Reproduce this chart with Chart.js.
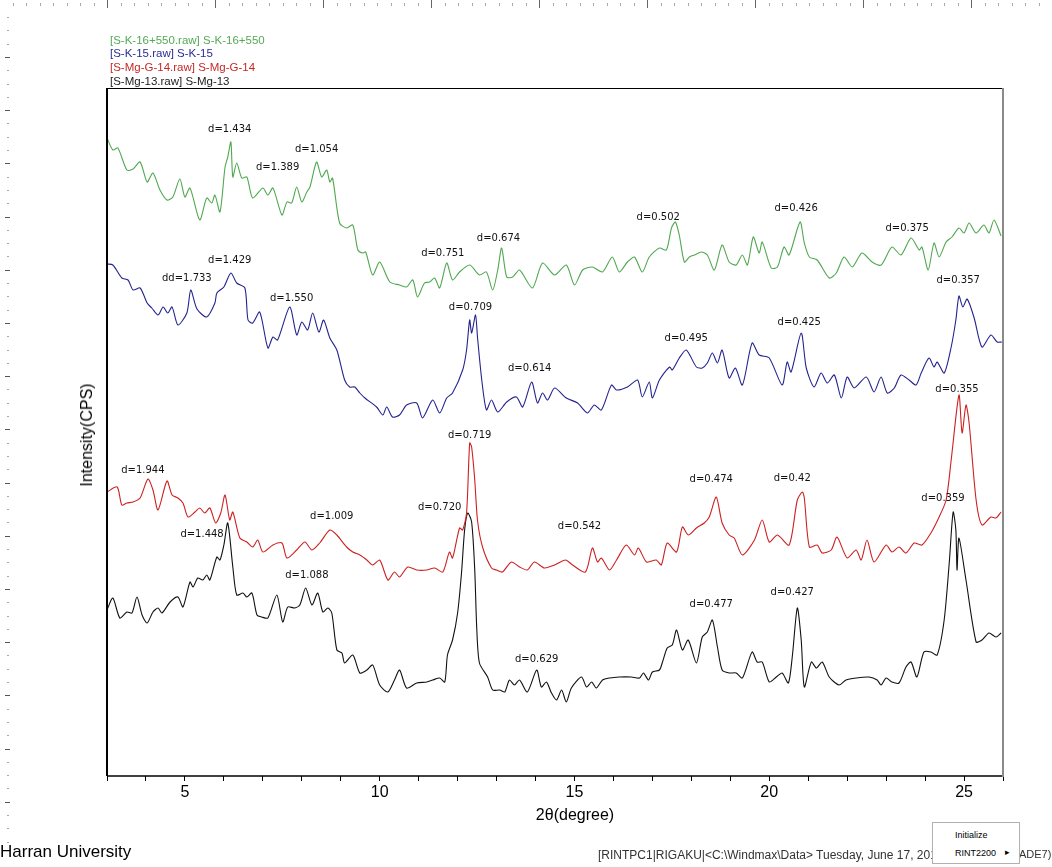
<!DOCTYPE html>
<html>
<head>
<meta charset="utf-8">
<script src="https://cdn.jsdelivr.net/npm/chart.js@4.4.1/dist/chart.umd.min.js"></script>
<style>
  body { margin: 0; background: #fff; }
  #wrap { position: relative; width: 1052px; height: 867px; font-family: "Liberation Sans", Arial, sans-serif; overflow: hidden; }
  canvas { position: absolute; left: 0; top: 0; }
  .txt { position: absolute; white-space: nowrap; }
  .legend { left: 110px; font-size: 11.5px; line-height: 14px; }
  .popup { position: absolute; left: 932px; top: 822px; width: 88px; height: 42px; border: 1px solid #b0b0b0; background: #fff; box-sizing: border-box; font-size: 9px; z-index: 2; }
</style>
</head>
<body>
<div id="wrap">
  <canvas id="xrd" width="1052" height="867"></canvas>

  <div class="txt legend" style="top:33px;color:#55a855">[S-K-16+550.raw] S-K-16+550</div>
  <div class="txt legend" style="top:46px;color:#2c2c96">[S-K-15.raw] S-K-15</div>
  <div class="txt legend" style="top:60px;color:#c62828">[S-Mg-G-14.raw] S-Mg-G-14</div>
  <div class="txt legend" style="top:74px;color:#222">[S-Mg-13.raw] S-Mg-13</div>

  <div class="txt" style="left:87px;top:435px;font-size:16px;transform:translate(-50%,-50%) rotate(-90deg)">Intensity(CPS)</div>
  <div class="txt" style="left:575px;top:815px;font-size:16px;transform:translate(-50%,-50%)">2θ(degree)</div>

  <div class="txt" style="left:0px;top:842px;font-size:17px">Harran University</div>
  <div class="txt" style="left:598px;top:848px;font-size:12px;color:#333">[RINTPC1|RIGAKU|&lt;C:\Windmax\Data&gt; Tuesday, June 17, 2014</div>
  <div class="popup">
    <div class="txt" style="left:22px;top:7px">Initialize</div>
    <div class="txt" style="left:22px;top:25px">RINT2200</div>
    <div class="txt" style="left:72px;top:24px">▸</div>
  </div>
  <div class="txt" style="left:1019px;top:848px;font-size:11px;color:#333">ADE7)</div>
</div>

<script>
// Four XRD patterns, 2-theta (degree) vs relative intensity (stacked offsets as drawn)

const seriesNames = ['S-K-16+550', 'S-K-15', 'S-Mg-G-14', 'S-Mg-13'];

const greenX = [3.00,3.15,3.28,3.51,3.67,3.85,4.03,4.18,4.36,4.54,4.69,4.87,5.00,5.13,5.38,5.56,5.69,5.77,5.90,6.03,6.10,6.18,6.23,6.33,6.46,6.59,6.74,7.00,7.13,7.26,7.49,7.62,7.74,7.87,8.00,8.13,8.21,8.38,8.51,8.64,8.72,8.79,8.97,9.15,9.31,9.44,9.56,9.64,9.82,10.00,10.26,10.51,10.69,10.85,10.97,11.15,11.28,11.41,11.54,11.72,11.87,12.05,12.31,12.56,12.74,12.90,13.03,13.13,13.26,13.41,13.59,13.92,14.18,14.49,14.79,15.00,15.21,15.46,15.72,15.97,16.15,16.36,16.54,16.74,16.92,17.18,17.36,17.49,17.59,17.69,17.82,17.95,18.08,18.26,18.41,18.59,18.79,18.97,19.15,19.31,19.44,19.59,19.74,19.82,20.05,20.21,20.38,20.51,20.79,20.90,21.03,21.23,21.54,21.72,21.92,22.13,22.38,22.64,22.87,23.15,23.38,23.64,23.85,23.92,24.08,24.23,24.36,24.54,24.69,24.87,25.00,25.13,25.31,25.51,25.64,25.77,25.95];
const greenY = [638,626,628,606,607,614,594,603,586,576,579,597,579,588,556,578,573,581,564,609,619,634,599,613,598,599,578,588,581,588,561,574,573,589,574,584,589,614,599,606,594,598,553,548,551,526,523,524,501,514,494,491,489,496,479,493,494,498,488,513,496,504,511,501,504,486,506,528,499,499,506,488,513,501,511,491,506,509,504,519,504,514,519,504,519,528,526,548,554,541,514,519,521,524,521,506,531,514,511,521,511,539,523,534,508,509,529,521,554,533,519,516,498,503,519,509,523,514,511,529,521,538,526,529,506,533,519,534,539,548,543,553,543,551,543,556,540];

const blueX = [3.00,3.15,3.38,3.54,3.67,3.85,4.03,4.15,4.31,4.44,4.56,4.67,4.82,5.05,5.15,5.31,5.56,5.77,5.82,6.00,6.18,6.33,6.54,6.62,6.74,6.92,7.13,7.26,7.38,7.69,7.87,8.00,8.15,8.28,8.44,8.56,8.72,8.90,9.10,9.23,9.36,9.49,9.62,9.92,10.08,10.18,10.33,10.51,10.69,10.95,11.10,11.36,11.54,11.72,11.87,12.13,12.23,12.31,12.36,12.46,12.51,12.62,12.74,12.87,13.03,13.26,13.51,13.67,13.90,14.05,14.18,14.31,14.49,14.79,15.08,15.33,15.51,15.69,15.95,16.08,16.36,16.62,16.74,16.92,17.00,17.18,17.44,17.51,17.69,17.87,18.13,18.28,18.41,18.54,18.67,18.79,18.97,19.13,19.31,19.56,19.74,20.00,20.33,20.46,20.56,20.82,20.95,21.15,21.33,21.49,21.67,21.85,22.00,22.18,22.49,22.69,22.87,23.03,23.21,23.38,23.59,23.77,23.90,24.10,24.23,24.31,24.49,24.67,24.79,24.87,24.97,25.08,25.26,25.46,25.69,25.85,25.97];
const blueY = [512,511,498,496,486,488,473,468,461,469,463,469,451,463,486,467,459,473,483,489,503,493,488,456,453,464,428,439,436,469,441,454,446,463,444,456,438,426,396,389,389,383,378,369,361,369,359,361,371,373,358,376,363,378,383,406,426,456,443,461,439,396,366,376,364,374,379,369,394,373,383,376,388,378,373,363,371,366,391,386,389,396,379,394,378,396,409,406,418,426,409,408,413,423,413,426,398,408,391,433,421,418,391,414,404,443,408,389,403,393,401,378,399,388,399,384,399,383,388,401,396,391,403,418,409,414,403,429,456,480,469,477,458,429,441,434,434];

const redX = [3.00,3.26,3.38,3.51,3.67,3.85,4.05,4.18,4.31,4.54,4.67,4.82,4.95,5.08,5.26,5.38,5.51,5.64,5.79,5.92,6.03,6.15,6.23,6.41,6.59,6.74,6.87,7.00,7.26,7.49,7.62,7.87,8.08,8.26,8.46,8.72,8.90,9.15,9.31,9.49,9.67,9.82,10.00,10.21,10.38,10.51,10.72,10.95,11.21,11.41,11.62,11.79,11.87,12.05,12.13,12.23,12.31,12.36,12.44,12.51,12.64,12.87,13.00,13.15,13.38,13.59,13.79,13.97,14.23,14.49,14.77,14.95,15.28,15.46,15.59,15.69,15.90,16.08,16.33,16.54,16.64,16.85,17.10,17.23,17.38,17.62,17.77,17.92,18.13,18.33,18.46,18.64,18.79,18.97,19.10,19.31,19.62,19.82,20.00,20.21,20.51,20.72,20.85,20.90,21.03,21.23,21.36,21.59,21.74,22.00,22.23,22.36,22.51,22.69,23.00,23.15,23.33,23.51,23.72,23.92,24.15,24.36,24.54,24.67,24.87,24.95,25.05,25.13,25.31,25.46,25.69,25.82,25.95];
const redY = [284,289,271,273,274,278,297,286,266,295,281,278,273,259,264,268,263,268,253,263,281,256,264,238,234,229,236,224,231,233,218,226,234,226,233,246,241,229,224,221,216,211,216,196,204,199,209,206,206,208,204,224,218,248,246,263,333,329,296,256,229,208,206,204,214,209,206,214,208,211,216,211,204,228,214,218,206,216,231,221,228,214,216,211,233,224,249,241,248,253,259,279,253,241,238,221,236,256,234,241,231,276,284,278,229,231,223,226,239,218,226,216,236,214,231,224,229,223,233,231,243,259,276,316,381,343,371,353,276,251,259,258,264];

const blackX = [3.00,3.15,3.33,3.51,3.64,3.77,3.90,4.03,4.18,4.31,4.41,4.62,4.82,4.95,5.13,5.21,5.33,5.46,5.56,5.64,5.82,5.90,6.00,6.10,6.23,6.33,6.49,6.59,6.72,6.85,6.97,7.13,7.36,7.51,7.64,7.82,7.95,8.10,8.26,8.41,8.54,8.67,8.77,8.90,9.03,9.10,9.31,9.49,9.67,9.82,10.00,10.21,10.38,10.51,10.69,10.95,11.21,11.36,11.54,11.67,11.74,11.87,12.00,12.10,12.18,12.26,12.36,12.44,12.49,12.56,12.77,12.90,13.08,13.21,13.33,13.46,13.59,13.79,14.03,14.15,14.28,14.41,14.54,14.67,14.79,14.92,15.18,15.31,15.44,15.56,15.72,15.90,16.15,16.46,16.67,16.77,16.90,17.00,17.18,17.26,17.38,17.51,17.62,17.77,17.92,18.13,18.28,18.41,18.54,18.67,18.79,18.97,19.15,19.31,19.56,19.69,19.82,20.00,20.18,20.33,20.49,20.59,20.72,20.82,20.90,21.08,21.21,21.36,21.54,21.79,21.97,22.23,22.56,22.77,22.87,23.00,23.15,23.33,23.51,23.64,23.79,23.97,24.15,24.31,24.49,24.62,24.72,24.79,24.82,24.87,25.05,25.31,25.46,25.64,25.82,25.95];
const blackY = [166,178,158,164,163,179,161,153,164,168,163,174,179,169,194,189,198,196,201,196,219,216,231,253,209,181,183,179,183,161,159,158,181,154,169,168,171,188,171,183,164,168,163,126,123,113,121,103,106,111,91,84,96,106,88,93,94,96,98,94,121,136,163,203,246,263,254,206,149,113,99,86,86,84,96,91,96,84,106,89,94,83,76,86,74,88,99,89,94,88,96,98,99,99,98,103,96,104,106,114,128,131,146,126,136,113,139,144,156,129,106,103,103,98,124,114,114,94,99,103,93,119,168,136,89,114,108,114,99,91,96,98,99,96,91,98,94,93,109,114,99,124,124,121,156,213,264,246,206,238,196,134,136,143,139,143];

// d-spacing labels: [2theta, intensity, text]
const greenLabels = [[6.15,647,'d=1.434'],[7.38,609,'d=1.389'],[8.38,627,'d=1.054'],[11.62,523,'d=0.751'],[13.05,538,'d=0.674'],[17.15,559,'d=0.502'],[20.69,568,'d=0.426'],[23.54,548,'d=0.375']];
const blueLabels = [[5.05,498,'dd=1.733'],[6.15,516,'d=1.429'],[7.74,478,'d=1.550'],[12.33,469,'d=0.709'],[13.85,408,'d=0.614'],[17.87,438,'d=0.495'],[20.77,454,'d=0.425'],[24.85,496,'d=0.357']];
const redLabels = [[3.92,306,'d=1.944'],[12.31,341,'d=0.719'],[8.77,260,'d=1.009'],[15.13,250,'d=0.542'],[18.51,297,'d=0.474'],[20.59,298,'d=0.42'],[24.82,387,'d=0.355']];
const blackLabels = [[11.54,269,'d=0.720'],[5.44,242,'d=1.448'],[8.13,201,'d=1.088'],[14.03,117,'d=0.629'],[18.51,172,'d=0.477'],[20.59,184,'d=0.427'],[24.46,278,'d=0.359']];

const xMin = 3, xMax = 26, yMin = 0, yMax = 688;

function toPoints(xs, ys) {
    return xs.map((x, i) => ({ x: x, y: ys[i] }));
}

// Frame around plot + ruler marks along the screenshot edges
const framePlugin = {
    id: 'frame',
    beforeDraw(chart) {
        const ctx = chart.ctx;
        ctx.save();
        ctx.fillStyle = '#fff';
        ctx.fillRect(0, 0, chart.width, chart.height);
        // top ruler
        for (let i = -7; i * 13.5 + 107 < chart.width; i++) {
            const x = Math.round(107 + i * 13.5) + 0.5;
            const tall = ((i % 8) + 8) % 8 === 0;
            ctx.strokeStyle = tall ? '#666' : '#aaa';
            ctx.beginPath();
            ctx.moveTo(x, tall ? 0 : 3);
            ctx.lineTo(x, tall ? 8 : 6);
            ctx.stroke();
        }
        // left ruler
        for (let j = 0; 17 + j * 13.3 < 850; j++) {
            const y = Math.round(17 + j * 13.3) + 0.5;
            const tall = j % 4 === 3;
            ctx.strokeStyle = tall ? '#555' : '#aaa';
            ctx.beginPath();
            ctx.moveTo(tall ? 5 : 7, y);
            ctx.lineTo(tall ? 10 : 9, y);
            ctx.stroke();
        }
        ctx.restore();
    },
    afterDraw(chart) {
        const a = chart.chartArea;
        const ctx = chart.ctx;
        ctx.save();
        ctx.strokeStyle = '#000';
        ctx.lineWidth = 1;
        ctx.beginPath();
        ctx.moveTo(a.left, a.top + 0.5);
        ctx.lineTo(a.right, a.top + 0.5);
        ctx.stroke();
        ctx.lineWidth = 1.5;
        ctx.beginPath();
        ctx.moveTo(a.left, a.bottom);
        ctx.lineTo(a.right, a.bottom);
        ctx.stroke();
        ctx.lineWidth = 2;
        ctx.beginPath();
        ctx.moveTo(a.left, a.top);
        ctx.lineTo(a.left, a.bottom);
        ctx.stroke();
        ctx.strokeStyle = '#8a8a8a';
        ctx.beginPath();
        ctx.moveTo(a.right, a.top);
        ctx.lineTo(a.right, a.bottom + 1);
        ctx.stroke();
        ctx.restore();
    }
};

// d-spacing annotations placed through the scales
const labelPlugin = {
    id: 'dLabels',
    afterDatasetsDraw(chart) {
        const ctx = chart.ctx;
        const xs = chart.scales.x, ys = chart.scales.y;
        ctx.save();
        ctx.font = '10px "DejaVu Sans", Tahoma, sans-serif';
        ctx.fillStyle = '#111';
        ctx.textAlign = 'center';
        ctx.textBaseline = 'middle';
        [greenLabels, blueLabels, redLabels, blackLabels].forEach(list => {
            list.forEach(l => {
                ctx.fillText(l[2], xs.getPixelForValue(l[0]), ys.getPixelForValue(l[1]));
            });
        });
        ctx.restore();
    }
};

const lineStyle = { borderWidth: 1.1, pointRadius: 0, tension: 0.25, fill: false };

new Chart(document.getElementById('xrd'), {
    type: 'line',
    data: {
        datasets: [
            { label: seriesNames[0], data: toPoints(greenX, greenY), borderColor: '#4fa84f', ...lineStyle },
            { label: seriesNames[1], data: toPoints(blueX, blueY), borderColor: '#23238f', ...lineStyle },
            { label: seriesNames[2], data: toPoints(redX, redY), borderColor: '#cc2020', ...lineStyle },
            { label: seriesNames[3], data: toPoints(blackX, blackY), borderColor: '#111', ...lineStyle }
        ]
    },
    options: {
        responsive: false,
        animation: false,
        layout: { padding: { left: 107, top: 88, right: 49, bottom: 0 } },
        plugins: {
            legend: { display: false },
            tooltip: { enabled: false }
        },
        scales: {
            x: {
                type: 'linear',
                min: xMin,
                max: xMax,
                afterFit: scale => { scale.height = 91; },
                grid: { drawOnChartArea: false, drawTicks: true, tickLength: 5, color: '#000' },
                border: { display: false },
                ticks: {
                    stepSize: 1,
                    autoSkip: false,
                    maxRotation: 0,
                    padding: 2,
                    color: '#000',
                    font: { family: '"Liberation Sans", Arial, sans-serif', size: 16 },
                    callback: v => (v % 5 === 0 ? String(v) : '')
                }
            },
            y: {
                type: 'linear',
                min: yMin,
                max: yMax,
                display: false
            }
        }
    },
    plugins: [framePlugin, labelPlugin]
});
</script>
</body>
</html>
